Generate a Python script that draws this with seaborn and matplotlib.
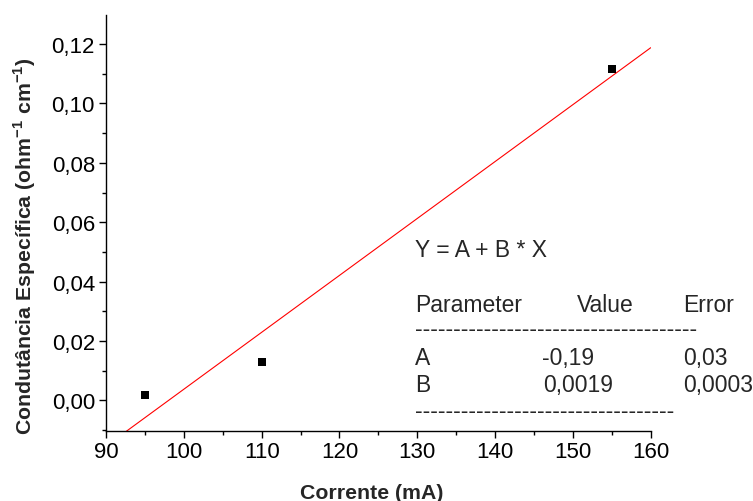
import numpy as np
import pandas as pd
import matplotlib
matplotlib.use("Agg")
import matplotlib.pyplot as plt
from matplotlib.ticker import MultipleLocator, FuncFormatter
import seaborn as sns

# ---- data ----
corrente = [95, 110, 155]                 # mA
condutancia = [0.0017, 0.0129, 0.1117]    # ohm^-1 cm^-1

eq_text = "Y = A + B * X"
param_header = ["Parameter", "Value", "Error"]
param_names = ["A", "B"]
param_values = ["-0,19", "0,0019"]
param_errors = ["0,03", "0,0003"]

x_label = "Corrente (mA)"
y_label = "Condutância Específica (ohm$^{\\mathbf{-1}}$ cm$^{\\mathbf{-1}}$)"

# ---- style ----
sns.set_style("ticks")
plt.rcParams['font.family'] = ['Liberation Sans', 'DejaVu Sans']
plt.rcParams['mathtext.fontset'] = 'custom'
plt.rcParams['mathtext.rm'] = 'Liberation Sans'
plt.rcParams['mathtext.bf'] = 'Liberation Sans:bold'

W, H = 753, 502
fig = plt.figure(figsize=(W / 100, H / 100), dpi=100)
ax = fig.add_axes([106 / W, 1 - 432 / H, (650.7 - 106) / W, (432 - 16) / H])

df = pd.DataFrame({"x": corrente, "y": condutancia})

# linear fit (red line)
B, A = np.polyfit(df["x"], df["y"], 1)
xfit = np.array([90.0, 160.0])
fit_df = pd.DataFrame({"x": xfit, "y": A + B * xfit})
sns.lineplot(data=fit_df, x="x", y="y", color="red", lw=0.8, ax=ax)

sns.scatterplot(data=df, x="x", y="y", marker="s", s=40, color="black",
                edgecolor="black", linewidth=0, ax=ax, zorder=3)

ax.set_xlim(90, 160)
ax.set_ylim(-0.0103, 0.1298)
ax.xaxis.set_major_locator(MultipleLocator(10))
ax.xaxis.set_minor_locator(MultipleLocator(5))
ax.yaxis.set_major_locator(MultipleLocator(0.02))
ax.yaxis.set_minor_locator(MultipleLocator(0.01))
ax.yaxis.set_major_formatter(FuncFormatter(lambda v, p: f"{v:.2f}".replace(".", ",")))
ax.xaxis.set_major_formatter(FuncFormatter(lambda v, p: f"{v:.0f}"))

sns.despine(ax=ax)
for s in ["left", "bottom"]:
    ax.spines[s].set_linewidth(1.0)
    ax.spines[s].set_color("black")
ax.tick_params(which="major", direction="out", length=5, width=1.0,
               labelsize=16, color="black", labelcolor="black")
ax.tick_params(axis="x", which="major", pad=2)
ax.tick_params(axis="y", which="major", pad=3)
ax.tick_params(which="minor", direction="out", length=3, width=1.0, color="black")
ax.set_xlabel("")
ax.set_ylabel("")

fig.text(371.5 / W, 1 - 499.3 / H, x_label, ha="center", va="baseline",
         fontsize=15.3, fontweight="bold")
fig.text(25 / W, 1 - 246.5 / H, y_label, ha="center", va="center",
         rotation=90, fontsize=15.3, fontweight="bold")

# ---- fit parameter box ----
def put(xp, yp, s, **kw):
    fig.text(xp / W, 1 - yp / H, s, ha="left", va="baseline", fontsize=16.5, **kw)

put(415, 256.7, eq_text)
put(415, 311.7, param_header[0])
put(576.7, 311.7, param_header[1])
put(683, 311.7, param_header[2])
put(415, 336.5, "-" * 37)
rows_y = [365, 391.7]
vals_x = [541.7, 542.7]
for name, val, err, yy, vx in zip(param_names, param_values, param_errors, rows_y, vals_x):
    put(415, yy, name)
    put(vx, yy, val)
    put(683, yy, err)
put(415, 418, "-" * 34)

fig.savefig("out.png", dpi=100)
